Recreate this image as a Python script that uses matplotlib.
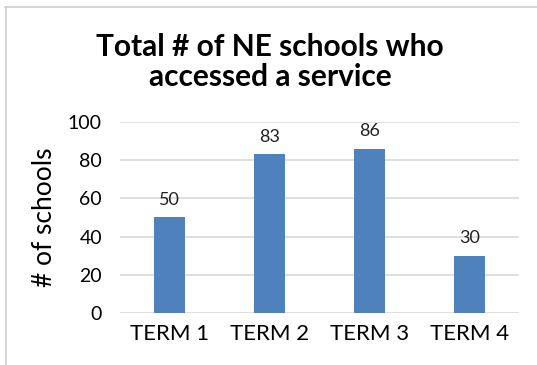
import matplotlib.pyplot as plt
from matplotlib.lines import Line2D

# Data
terms = ["TERM 1", "TERM 2", "TERM 3", "TERM 4"]
schools = [50, 83, 86, 30]
y_ticks = [0, 20, 40, 60, 80, 100]

BAR_COLOR = "#4F81BD"
GRID_COLOR = "#D9D9D9"

plt.rcParams["font.family"] = ["Lato", "DejaVu Sans"]

fig = plt.figure(figsize=(5.37, 3.65), dpi=100)
ax = fig.add_axes([0.2235, 0.1425, 0.743, 0.5233])

x = range(len(terms))
ax.bar(x, schools, width=0.31, color=BAR_COLOR, zorder=3)
for xi, v in zip(x, schools):
    ax.text(xi, v + 5, str(v), ha="center", va="bottom", fontsize=13,
            color="#222222")

ax.set_xlim(-0.5, 3.5)
ax.set_ylim(0, 100)
ax.set_yticks(y_ticks)
ax.set_xticks(list(x))
ax.set_xticklabels(terms, fontsize=16)
ax.tick_params(axis="y", labelsize=14, length=0, pad=13)
ax.tick_params(axis="x", length=0, pad=8)
ax.grid(axis="y", color=GRID_COLOR, linewidth=1.2, zorder=0)
for s in ax.spines.values():
    s.set_visible(False)

ax.set_ylabel("# of schools", fontsize=19, labelpad=8)

fig.text(0.503, 0.83, "Total # of NE schools who\naccessed a service",
         ha="center", va="center", fontsize=21.5, fontweight="bold",
         linespacing=1.1)

# thin frame lines at top and left of the picture
fig.add_artist(Line2D([0.009, 1.0], [0.981, 0.981], transform=fig.transFigure,
                      color="#D0D0D0", linewidth=1.2))
fig.add_artist(Line2D([0.011, 0.011], [0.0, 0.981], transform=fig.transFigure,
                      color="#D0D0D0", linewidth=1.2))

fig.savefig("out.png", dpi=100)
